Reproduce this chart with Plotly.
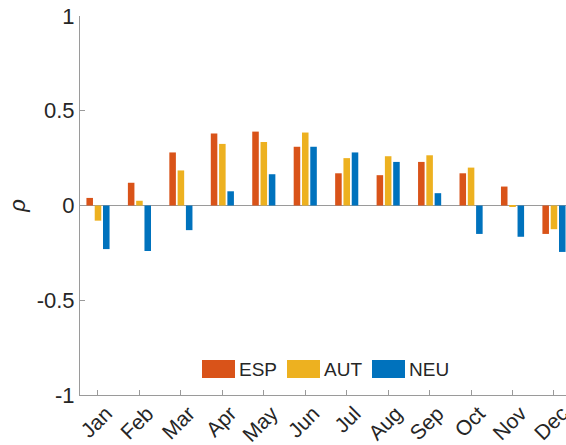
import plotly.graph_objects as go

# Monthly correlation coefficients per region
months = ["Jan", "Feb", "Mar", "Apr", "May", "Jun", "Jul", "Aug", "Sep", "Oct", "Nov", "Dec"]
month_pos = list(range(1, 13))
esp = [0.04, 0.12, 0.28, 0.38, 0.39, 0.31, 0.17, 0.16, 0.23, 0.17, 0.10, -0.15]
aut = [-0.08, 0.025, 0.185, 0.325, 0.335, 0.385, 0.25, 0.26, 0.265, 0.20, -0.005, -0.125]
neu = [-0.23, -0.24, -0.13, 0.075, 0.165, 0.31, 0.28, 0.23, 0.065, -0.15, -0.165, -0.245]
series_names = ["ESP", "AUT", "NEU"]
series_colors = ["#D95319", "#EDB120", "#0072BD"]
y_ticks = [-1, -0.5, 0, 0.5, 1]
y_tick_text = ["-1", "-0.5", "0", "0.5", "1"]

W, H = 566, 445
ML, MR, MT, MB = 80, 0, 16, 50
FONT = "Liberation Sans, Arial, sans-serif"
TEXT = "#262626"
AXIS = "#9a9a9a"

fig = go.Figure()
for name, vals, col in zip(series_names, [esp, aut, neu], series_colors):
    fig.add_trace(go.Bar(x=month_pos, y=vals, name=name, marker=dict(color=col, line=dict(width=0)),
                         showlegend=False))

fig.update_layout(
    width=W, height=H,
    margin=dict(l=ML, r=MR, t=MT, b=MB, pad=0, autoexpand=False),
    paper_bgcolor="white", plot_bgcolor="white",
    barmode="group", bargap=0.4, bargroupgap=0.21,
    font=dict(family=FONT, size=22, color=TEXT),
)
fig.update_xaxes(
    range=[0.566, 12.29], tickmode="array", tickvals=month_pos, ticktext=months,
    tickangle=-45, showline=True, linecolor=AXIS, linewidth=1,
    ticks="inside", ticklen=5, tickcolor=AXIS, showgrid=False, zeroline=False,
    ticklabelshift=8, ticklabelstandoff=-3, ticklabeloverflow="allow", automargin=False,
    tickfont=dict(family=FONT, size=21, color=TEXT),
)
fig.update_yaxes(
    range=[-1, 1], tickmode="array", tickvals=y_ticks, ticktext=y_tick_text,
    showline=True, linecolor=AXIS, linewidth=1, automargin=False,
    ticks="inside", ticklen=5, tickcolor=AXIS, showgrid=False,
    zeroline=True, zerolinecolor=AXIS, zerolinewidth=1,
    tickfont=dict(family=FONT, size=22, color=TEXT),
    title=dict(text="<i>ρ</i>", standoff=4, font=dict(family=FONT, size=22, color=TEXT)),
)

# Horizontal legend inside the axes, with wide colour patches
pw, ph = W - ML - MR, H - MT - MB
def px(x):
    return (x - ML) / pw
def py(y):
    return (H - MB - y) / ph

patch_left = [202, 287, 372]
patch_w, top, bot = 33, 360, 378
for left, name, col in zip(patch_left, series_names, series_colors):
    fig.add_shape(type="rect", xref="paper", yref="paper",
                  x0=px(left), x1=px(left + patch_w), y0=py(bot), y1=py(top),
                  fillcolor=col, line=dict(width=0), layer="above")
    fig.add_annotation(xref="paper", yref="paper", x=px(left + patch_w + 2), y=py((top + bot) / 2),
                       text=name, showarrow=False, xanchor="left", yanchor="middle",
                       font=dict(family=FONT, size=19, color=TEXT))

fig.write_html("out.html")
